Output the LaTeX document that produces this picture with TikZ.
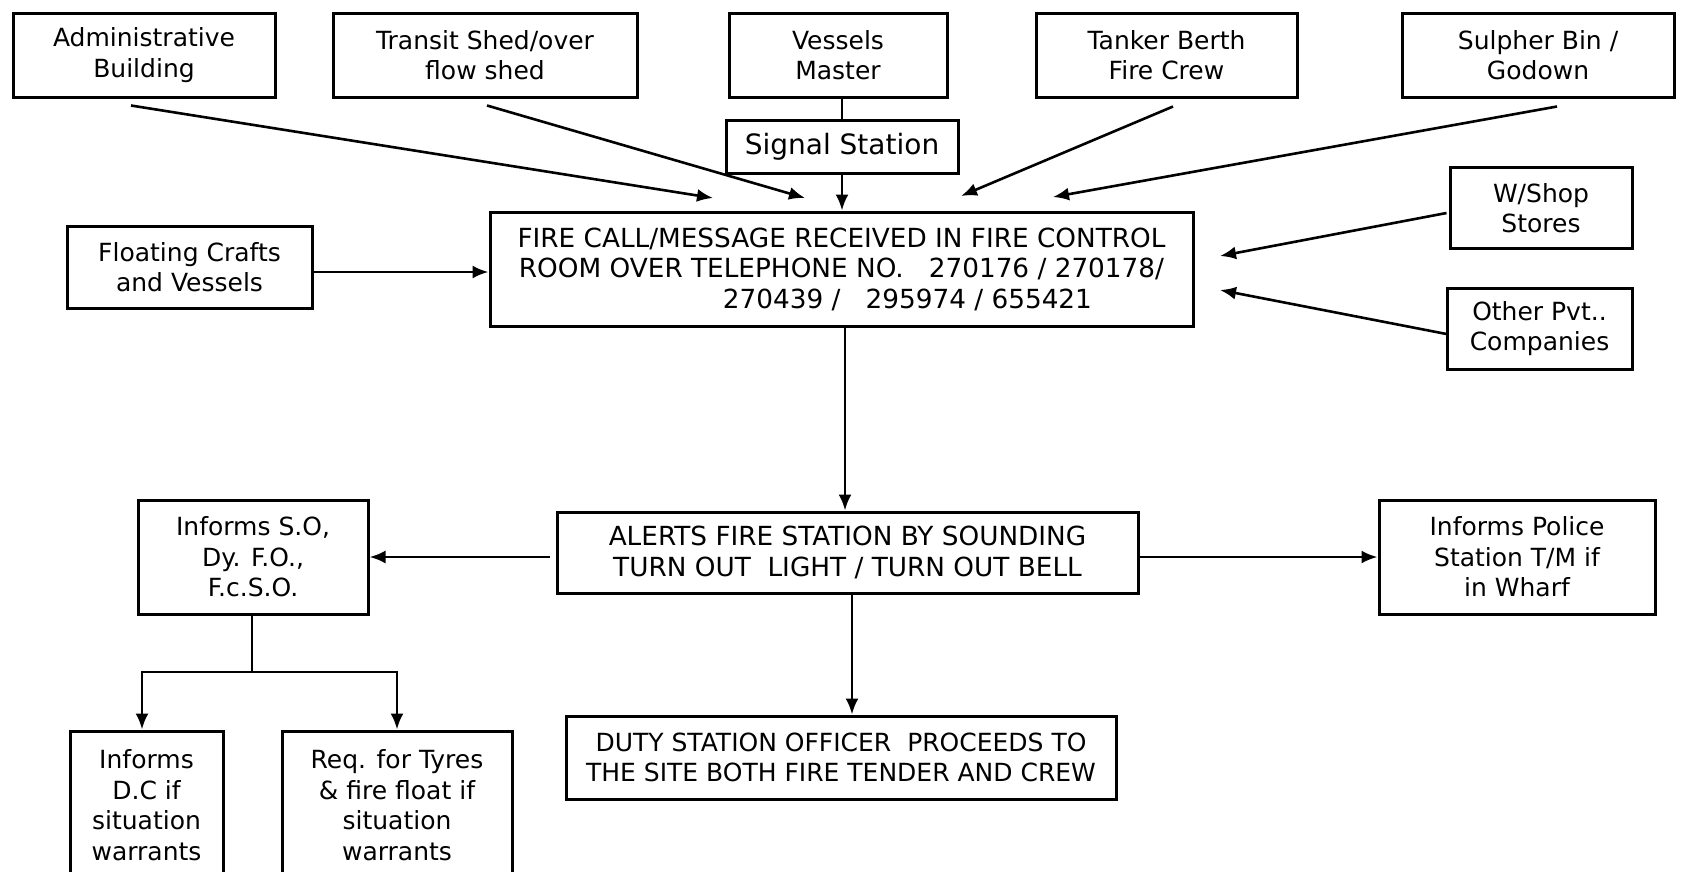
\documentclass[tikz,border=0pt]{standalone}
\usepackage{fontspec}
\setmainfont{DejaVu Sans}
\usetikzlibrary{positioning,arrows.meta}

\begin{document}
\begin{tikzpicture}[
    x=1pt, y=-1pt,
    box/.style={
        draw,
        line width=3pt,
        align=center,
        inner sep=0pt,
        font=\fontsize{25}{30.5}\selectfont
    },
    bigbox/.style={
        box,
        font=\fontsize{26.3}{30.5}\selectfont
    },
    arrow/.style={-{Latex[length=16pt,width=13pt]}, line width=2.6pt},
    line/.style={line width=2.6pt}
]

\clip (0,0) rectangle (1688,871);

% Row 1
\node[box, minimum width=262pt, minimum height=84pt] (admin) at (144,55) {Administrative\\Building};
\node[box, minimum width=304pt, minimum height=84pt] (transit) at (485,55) {Transit Shed/over\\flow shed};
\node[box, minimum width=218pt, minimum height=84pt] (vessels) at (838,55) {Vessels\\Master};
\node[box, minimum width=261pt, minimum height=84pt] (tanker) at (1166.5,55) {Tanker Berth\\Fire Crew};
\node[box, minimum width=272pt, minimum height=84pt] (sulpher) at (1538,55) {Sulpher Bin /\\Godown};

% Row 2
\node[box, minimum width=232pt, minimum height=53pt, below=20pt of vessels, xshift=4pt,
      font=\fontsize{28}{33}\selectfont] (signal) {Signal Station};

% Row 3
\node[bigbox, minimum width=703pt, minimum height=114pt] (fire) at (841.5,269) {
    FIRE CALL/MESSAGE RECEIVED IN FIRE CONTROL\\
    ROOM OVER TELEPHONE NO.\ \ \ 270176 / 270178/\\
    \hspace*{132pt}270439 /\ \ \ 295974 / 655421
};
\node[box, minimum width=245pt, minimum height=82pt] (floating) at (189.5,267) {Floating Crafts\\and Vessels};
\node[box, minimum width=182pt, minimum height=81pt] (wshop) at (1541,208) {W/Shop\\Stores};
\node[box, minimum width=185pt, minimum height=81pt] (other) at (1539.5,328.5) {Other Pvt..\\Companies};

% Row 4
\node[bigbox, minimum width=581pt, minimum height=81pt] (alerts) at (847.5,552.5) {
    ALERTS FIRE STATION BY SOUNDING\\
    TURN OUT\ \ LIGHT / TURN OUT BELL
};
\node[box, minimum width=230pt, minimum height=114pt] (so) at (253,557) {Informs S.O,\\Dy. F.O.,\\F.c.S.O.};
\node[box, minimum width=276pt, minimum height=114pt] (police) at (1517,557) {Informs Police\\Station T/M if\\in Wharf};

% Row 5
\node[box, minimum width=550pt, minimum height=83pt] (duty) at (841,757.5) {
    DUTY STATION OFFICER\ \ PROCEEDS TO\\
    THE SITE BOTH FIRE TENDER AND CREW
};
\node[box, minimum width=153pt, minimum height=148pt] (dc) at (146.5,805) {Informs\\D.C if\\situation\\warrants};
\node[box, minimum width=230pt, minimum height=148pt] (req) at (397,805) {Req. for Tyres\\\& fire float if\\situation\\warrants};

% Arrow ends
\coordinate (tipA) at (713,198);
\coordinate (tipB) at (805,198);
\coordinate (tipC) at (961,196);
\coordinate (tipD) at (1053,197);
\coordinate (tipE) at (1220,256);
\coordinate (tipF) at (1220,290);
\coordinate (split) at (252,672);

% Arrows
\draw[arrow] ([xshift=-13pt,yshift=-7pt]admin.south) -- (tipA);
\draw[arrow] ([xshift=2pt,yshift=-7pt]transit.south) -- (tipB);
\draw[line] (vessels.south -| signal.north) -- (signal.north);
\draw[arrow] (signal.south) -- (signal.south |- fire.north);
\draw[arrow] ([xshift=6.5pt,yshift=-8pt]tanker.south) -- (tipC);
\draw[arrow] ([xshift=19pt,yshift=-8pt]sulpher.south) -- (tipD);

\draw[arrow] ([yshift=-5pt]floating.east) -- ([yshift=-5pt]floating.east -| fire.west);
\draw[arrow] ([xshift=-2pt,yshift=-5pt]wshop.west) -- (tipE);
\draw[arrow] ([xshift=1pt,yshift=-5.5pt]other.west) -- (tipF);

\draw[arrow] ([xshift=3.5pt]fire.south) -- ([xshift=3.5pt]fire.south |- alerts.north);
\draw[arrow] ([xshift=-6pt,yshift=-4.5pt]alerts.west) -- ([yshift=-4.5pt]alerts.west -| so.east);
\draw[arrow] ([yshift=-4.5pt]alerts.east) -- ([yshift=-4.5pt]alerts.east -| police.west);
\draw[arrow] ([xshift=4.5pt]alerts.south) -- ([xshift=4.5pt]alerts.south |- duty.north);

\draw[line] (so.south -| split) -- (split);
\draw[arrow] (split) -| ([xshift=-4.5pt]dc.north);
\draw[arrow] (split) -| (req.north);

\end{tikzpicture}
\end{document}
